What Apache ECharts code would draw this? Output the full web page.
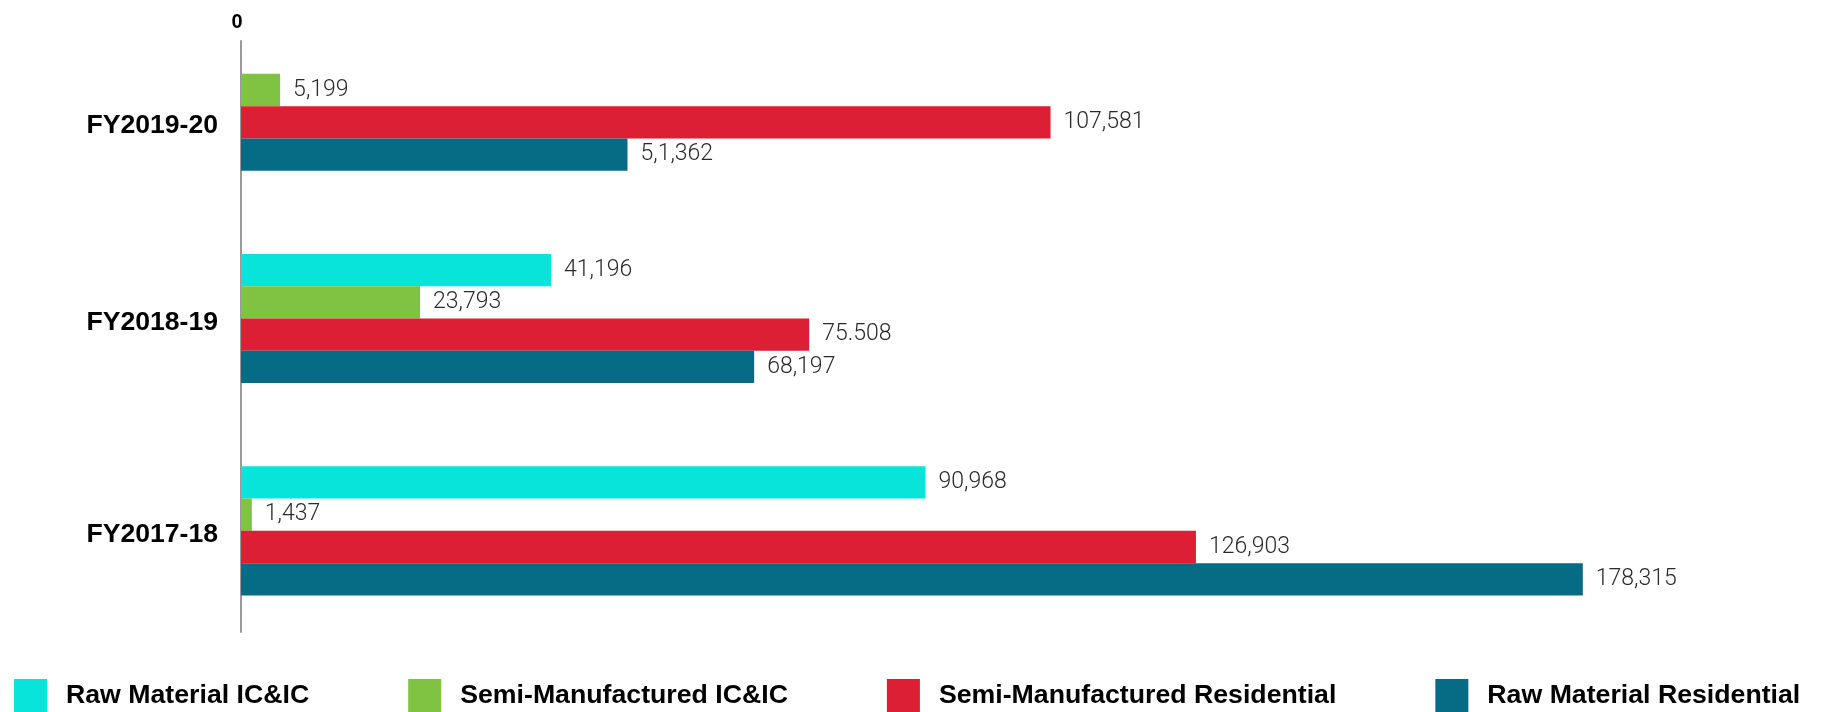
<!DOCTYPE html>
<html>
<head>
<meta charset="utf-8">
<script src="https://cdn.jsdelivr.net/npm/echarts@6/dist/echarts.min.js"></script>
<style>
  html, body { margin: 0; padding: 0; background: #ffffff; }
  #chart { width: 1825px; height: 712px; }
</style>
</head>
<body>
<div id="chart"></div>
<script>
// Fiscal years, listed top to bottom
const categories = ['FY2019-20', 'FY2018-19', 'FY2017-18'];

const seriesNames = [
  'Raw Material IC&IC',
  'Semi-Manufactured IC&IC',
  'Semi-Manufactured Residential',
  'Raw Material Residential'
];

// Values per fiscal year (null = no bar)
const rawMaterialICIC = [null, 41196, 90968];
const semiManufacturedICIC = [5199, 23793, 1437];
const semiManufacturedResidential = [107581, 75508, 126903];
const rawMaterialResidential = [51362, 68197, 178315];

// Printed value labels, as published
const rawMaterialICICLabels = ['', '41,196', '90,968'];
const semiManufacturedICICLabels = ['5,199', '23,793', '1,437'];
const semiManufacturedResidentialLabels = ['107,581', '75.508', '126,903'];
const rawMaterialResidentialLabels = ['5,1,362', '68,197', '178,315'];

// Value axis ticks shown at the top
const xTickLabels = ['0'];

const colors = ['#08E4DA', '#80C342', '#DC1F35', '#066B84'];
const seriesValues = [rawMaterialICIC, semiManufacturedICIC, semiManufacturedResidential, rawMaterialResidential];
const seriesLabels = [rawMaterialICICLabels, semiManufacturedICICLabels, semiManufacturedResidentialLabels, rawMaterialResidentialLabels];

const X_MAX = 200000;

const chart = echarts.init(document.getElementById('chart'), null, { renderer: 'canvas' });

const series = seriesNames.map((name, i) => ({
  name: name,
  type: 'bar',
  xAxisIndex: 0,
  yAxisIndex: 0,
  data: seriesValues[i],
  barWidth: 32.3,
  barGap: '0%',
  itemStyle: { color: colors[i] },
  label: {
    show: true,
    position: 'right',
    distance: 13,
    fontFamily: 'Roboto',
    fontWeight: 300,
    fontSize: 23,
    color: '#2a2a2a',
    formatter: p => seriesLabels[i][p.dataIndex]
  },
  emphasis: { disabled: true },
  animation: false
}));

// Invisible carrier series so the frame grid's axes get laid out like any other
series.push({
  name: 'frame',
  type: 'line',
  xAxisIndex: 1,
  yAxisIndex: 1,
  data: [],
  silent: true,
  showSymbol: false,
  lineStyle: { opacity: 0 },
  animation: false
});

chart.setOption({
  animation: false,
  backgroundColor: '#ffffff',
  legend: {
    data: seriesNames,
    icon: 'rect',
    left: 14,
    top: 679,
    padding: 0,
    itemWidth: 33,
    itemHeight: 33,
    itemGap: 99,
    selectedMode: false,
    textStyle: {
      fontFamily: 'Liberation Sans',
      fontWeight: 'bold',
      fontSize: 26.7,
      color: '#000000',
      padding: [6, 0, 0, 14]
    }
  },
  grid: [
    // bar area
    { left: 241, right: 79, top: -8, height: 645, containLabel: false },
    // frame carrying the vertical zero line and the top tick label
    { left: 241, right: 79, top: 41, bottom: 80, containLabel: false }
  ],
  xAxis: [
    {
      gridIndex: 0, type: 'value', min: 0, max: X_MAX,
      show: false
    },
    {
      gridIndex: 1, type: 'value', min: 0, max: X_MAX, interval: X_MAX,
      position: 'top',
      axisLine: { show: false },
      axisTick: { show: false },
      splitLine: { show: false },
      axisLabel: {
        show: true,
        margin: 9,
        showMaxLabel: false,
        fontFamily: 'Liberation Sans',
        fontWeight: 'bold',
        fontSize: 20,
        color: '#000000',
        padding: [0, 8, 0, 0],
        formatter: (v, idx) => (xTickLabels[idx] !== undefined ? xTickLabels[idx] : '')
      }
    }
  ],
  yAxis: [
    {
      gridIndex: 0,
      type: 'category',
      data: categories,
      inverse: true,
      axisLine: { show: false },
      axisTick: { show: false },
      splitLine: { show: false },
      axisLabel: {
        margin: 23,
        formatter: v => (v === categories[0] ? '{first|' + v + '}' : '{rest|' + v + '}'),
        rich: {
          first: {
            fontFamily: 'Liberation Sans', fontWeight: 'bold', fontSize: 26.6, color: '#000000',
            padding: [38, 0, 0, 0]
          },
          rest: {
            fontFamily: 'Liberation Sans', fontWeight: 'bold', fontSize: 26.6, color: '#000000',
            padding: [8, 0, 0, 0]
          }
        }
      }
    },
    {
      gridIndex: 1,
      type: 'value', min: 0, max: 1,
      axisLine: { show: true, onZero: false, lineStyle: { color: '#9a9a9a', width: 2 } },
      axisTick: { show: false },
      axisLabel: { show: false },
      splitLine: { show: false }
    }
  ],
  series: series
});
</script>
</body>
</html>
